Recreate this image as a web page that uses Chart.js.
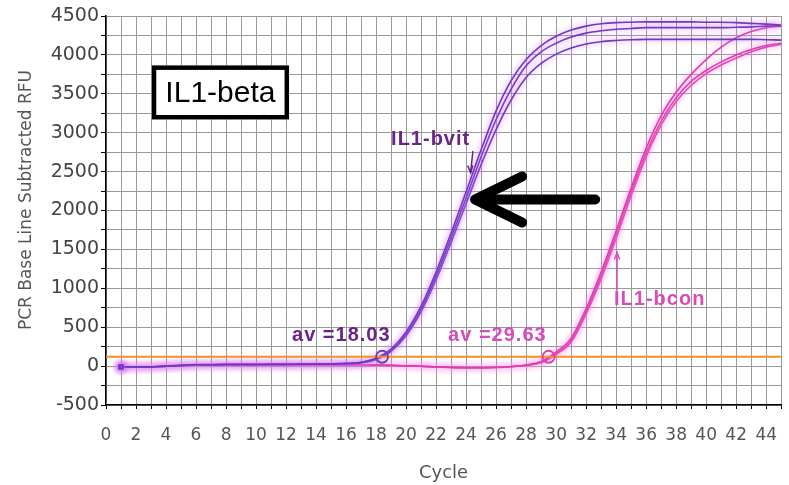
<!DOCTYPE html>
<html><head><meta charset="utf-8">
<script src="https://cdn.jsdelivr.net/npm/chart.js@4/dist/chart.umd.min.js"></script>
<style>html,body{margin:0;padding:0;background:#fff}#wrap{width:789px;height:485px;position:relative}</style>
</head><body><div id="wrap"><canvas id="c"></canvas></div>
<script>
// ---- data ----
const cycles = [1,2,3,4,5,6,7,8,9,10,11,12,13,14,15,16,17,18,19,20,21,22,23,24,25,26,27,28,29,30,31,32,33,34,35,36,37,38,39,40,41,42,43,44,45];
const vit1 = [-10,-10,-8,0,10,20,20,22,22,22,24,24,25,26,28,35,50,100,220,440,770,1210,1710,2240,2780,3280,3670,3940,4120,4240,4320,4370,4400,4415,4420,4425,4425,4425,4425,4420,4420,4415,4405,4395,4385];
const vit2 = [-12,-12,-10,0,8,18,18,20,20,20,22,22,24,25,27,32,45,90,200,410,730,1160,1650,2160,2690,3170,3560,3860,4040,4150,4230,4280,4310,4330,4340,4350,4350,4350,4350,4350,4350,4355,4360,4370,4375];
const vit3 = [-12,-12,-10,0,8,18,18,20,20,20,22,22,24,25,27,30,40,85,190,390,700,1110,1590,2090,2590,3040,3420,3710,3890,4010,4090,4140,4170,4185,4195,4200,4200,4200,4200,4200,4200,4200,4200,4195,4190];
const con1 = [-10,-10,-8,0,5,15,15,15,16,16,16,17,17,18,18,18,18,15,10,5,0,-10,-15,-20,-20,-15,-5,15,60,180,360,740,1210,1740,2290,2800,3220,3520,3750,3940,4100,4220,4300,4350,4370];
const con2 = [-12,-12,-10,0,5,14,14,14,15,15,15,16,16,17,17,17,17,14,8,3,-2,-12,-18,-22,-22,-18,-8,10,50,160,330,700,1160,1690,2240,2740,3150,3450,3660,3800,3910,4000,4070,4120,4150];
const con3 = [-12,-12,-10,0,5,14,14,14,15,15,15,16,16,17,17,17,17,14,8,3,-2,-12,-18,-22,-22,-18,-8,8,45,150,310,670,1120,1640,2190,2690,3100,3400,3610,3760,3870,3960,4040,4100,4135];
const threshold = 120;
const ctCircleCycles = [18.4, 29.5];
const ctLabels = ['av =18.03', 'av =29.63'];
const seriesLabels = ['IL1-bvit', 'IL1-bcon'];
const geneTitle = 'IL1-beta';
const xTickLabels = [0,2,4,6,8,10,12,14,16,18,20,22,24,26,28,30,32,34,36,38,40,42,44];
const yTickLabels = [-500,0,500,1000,1500,2000,2500,3000,3500,4000,4500];

// ---- styling ----
const VIT = '#6f38c2', VIT_GLOW = 'rgba(205,120,245,0.95)', VIT_TXT = '#6a2488';
const CON = '#e03cb2', CON_GLOW = 'rgba(250,140,225,0.95)', CON_TXT = '#d64cbc';
const toXY = arr => cycles.map((c, i) => ({x: c, y: arr[i]}));
const curve = (arr, col, glow) => ({
  data: toXY(arr), borderColor: col, borderWidth: 1.6, glow: glow,
  pointRadius: ctx => ctx.dataIndex === 0 ? 2.5 : 0, pointStyle: 'rect',
  pointBackgroundColor: col, pointBorderColor: col,
  cubicInterpolationMode: 'monotone', fill: false
});

const glowPlugin = {
  id: 'glow',
  beforeDatasetDraw(chart, args) {
    const ds = chart.data.datasets[args.index];
    if (ds.glow) { chart.ctx.save(); chart.ctx.shadowColor = ds.glow; chart.ctx.shadowBlur = 6; }
  },
  afterDatasetDraw(chart, args) {
    const ds = chart.data.datasets[args.index];
    if (ds.glow) chart.ctx.restore();
  }
};

function arrowHead(ctx, tx, ty, ang, len, spread) {
  ctx.beginPath();
  ctx.moveTo(tx + Math.cos(ang - spread) * len, ty + Math.sin(ang - spread) * len);
  ctx.lineTo(tx, ty);
  ctx.lineTo(tx + Math.cos(ang + spread) * len, ty + Math.sin(ang + spread) * len);
  ctx.stroke();
}

const annotPlugin = {
  id: 'annot',
  afterDatasetsDraw(chart) {
    const {ctx, scales: {x, y}} = chart;
    const px = v => x.getPixelForValue(v), py = v => y.getPixelForValue(v);
    ctx.save();
    // gene title box
    const bx0 = px(3.05), bx1 = px(12.2), by0 = py(3865), by1 = py(3170);
    ctx.fillStyle = '#fff'; ctx.fillRect(bx0, by0, bx1 - bx0, by1 - by0);
    ctx.lineWidth = 4.5; ctx.strokeStyle = '#000';
    ctx.strokeRect(bx0 + 2.25, by0 + 2.25, bx1 - bx0 - 4.5, by1 - by0 - 4.5);
    ctx.fillStyle = '#000'; ctx.font = '30px "Liberation Sans", Arial, sans-serif';
    ctx.textAlign = 'center'; ctx.textBaseline = 'middle';
    ctx.fillText(geneTitle, (bx0 + bx1) / 2, (by0 + by1) / 2 + 1);

    // bold labels
    ctx.font = 'bold 20px "Liberation Sans", Arial, sans-serif';
    ctx.letterSpacing = '1px';
    ctx.textAlign = 'left';
    ctx.fillStyle = VIT_TXT;
    ctx.fillText(seriesLabels[0], px(19.0), py(2913));
    ctx.fillText(ctLabels[0], px(12.4), py(394));
    ctx.fillStyle = CON_TXT;
    ctx.fillText(seriesLabels[1], px(33.86), py(857));
    ctx.fillText(ctLabels[1], px(22.8), py(394));
    ctx.letterSpacing = '0px';

    // small pointer arrows
    ctx.lineWidth = 1.5; ctx.lineCap = 'round';
    ctx.strokeStyle = VIT_TXT;
    ctx.beginPath(); ctx.moveTo(px(24.45), py(2757)); ctx.lineTo(px(24.3), py(2487)); ctx.stroke();
    arrowHead(ctx, px(24.3), py(2487), -Math.PI / 2 - 0.05, 7, 0.35);
    ctx.strokeStyle = CON_TXT;
    ctx.beginPath(); ctx.moveTo(px(34.06), py(985)); ctx.lineTo(px(34.06), py(1460)); ctx.stroke();
    arrowHead(ctx, px(34.06), py(1460), Math.PI / 2, 7, 0.35);

    // big black arrow
    ctx.strokeStyle = '#000'; ctx.lineWidth = 10; ctx.lineCap = 'round'; ctx.lineJoin = 'round';
    const tx = px(24.6), ty = py(2142);
    ctx.beginPath(); ctx.moveTo(px(32.6), ty); ctx.lineTo(tx + 3, ty); ctx.stroke();
    ctx.beginPath(); ctx.moveTo(tx + 47, ty - 23); ctx.lineTo(tx, ty); ctx.lineTo(tx + 47, ty + 23); ctx.stroke();

    ctx.restore();
  },
  afterDraw(chart) {
    const ctx = chart.ctx;
    ctx.save();
    ctx.translate(27, 200); ctx.rotate(-Math.PI / 2);
    ctx.font = '17px "DejaVu Sans", Verdana, sans-serif';
    ctx.fillStyle = '#555'; ctx.textAlign = 'center'; ctx.textBaseline = 'middle';
    ctx.fillText('PCR Base Line Subtracted RFU', 0, 0);
    ctx.restore();
  }
};

new Chart(document.getElementById('c'), {
  type: 'line',
  data: {
    datasets: [
      { data: ctCircleCycles.map(c => ({x: c, y: threshold})), showLine: false,
        pointRadius: 6, pointBorderWidth: 1.8, pointStyle: 'circle',
        pointBorderColor: [VIT, CON], pointBackgroundColor: 'rgba(255,255,255,0)' },
      { data: [{x: 0, y: threshold}, {x: 45, y: threshold}], borderColor: '#f39026', borderWidth: 2, pointRadius: 0 },
      curve(vit1, VIT, VIT_GLOW), curve(vit2, VIT, VIT_GLOW), curve(vit3, VIT, VIT_GLOW),
      curve(con1, CON, CON_GLOW), curve(con2, CON, CON_GLOW), curve(con3, CON, CON_GLOW)
    ]
  },
  options: {
    responsive: true, maintainAspectRatio: false, animation: false,
    layout: { padding: { top: 16, right: 4, left: 0, bottom: 0 } },
    plugins: { legend: { display: false }, tooltip: { enabled: false } },
    scales: {
      x: {
        type: 'linear', min: 0, max: 45,
        afterFit: s => { s.height = 80; s.paddingLeft = 0; s.paddingRight = 0; },
        border: { color: '#000', width: 1.5 },
        grid: { color: '#9a9a9a', lineWidth: 1, tickLength: 4, tickColor: '#000' },
        ticks: { stepSize: 1, autoSkip: false, maxRotation: 0, padding: 16, color: '#555',
          font: { family: '"DejaVu Sans", Verdana, sans-serif', size: 17 },
          callback: v => xTickLabels.includes(v) ? String(v) : '' },
        title: { display: true, text: 'Cycle', color: '#555', padding: { top: 0, bottom: 1 },
          font: { family: '"DejaVu Sans", Verdana, sans-serif', size: 18 } }
      },
      y: {
        min: -500, max: 4500,
        afterFit: s => { s.width = 106; },
        border: { color: '#000', width: 1.5 },
        grid: { color: '#9a9a9a', lineWidth: 1, tickLength: 5, tickColor: '#000' },
        ticks: { stepSize: 250, autoSkip: false, padding: 2, color: '#444',
          font: { family: '"DejaVu Sans", Verdana, sans-serif', size: 19 },
          callback: v => yTickLabels.includes(v) ? String(v) : '' }
      }
    }
  },
  plugins: [glowPlugin, annotPlugin]
});
</script></body></html>
